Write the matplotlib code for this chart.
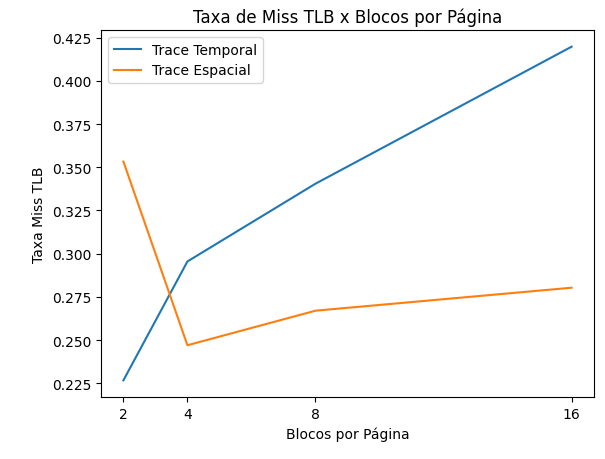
import matplotlib
matplotlib.use("Agg")
import matplotlib.pyplot as plt

blocos = [2, 4, 8, 16]
miss_temporal = [0.2267, 0.2955, 0.3405, 0.4198]
miss_espacial = [0.3533, 0.2470, 0.2670, 0.2803]

fig = plt.figure(figsize=(6.05, 4.6), dpi=100)
ax = fig.add_axes([101 / 605, 1 - 398 / 460, (594 - 101) / 605, (398 - 31) / 460])

ax.plot(blocos, miss_temporal, label="Trace Temporal")
ax.plot(blocos, miss_espacial, label="Trace Espacial")

ax.set_xticks(blocos)
ax.set_xlabel("Blocos por Página")
ax.set_ylabel("Taxa Miss TLB")
ax.set_title("Taxa de Miss TLB x Blocos por Página")
ax.legend(loc="upper left")

fig.savefig("out.png", dpi=100)
